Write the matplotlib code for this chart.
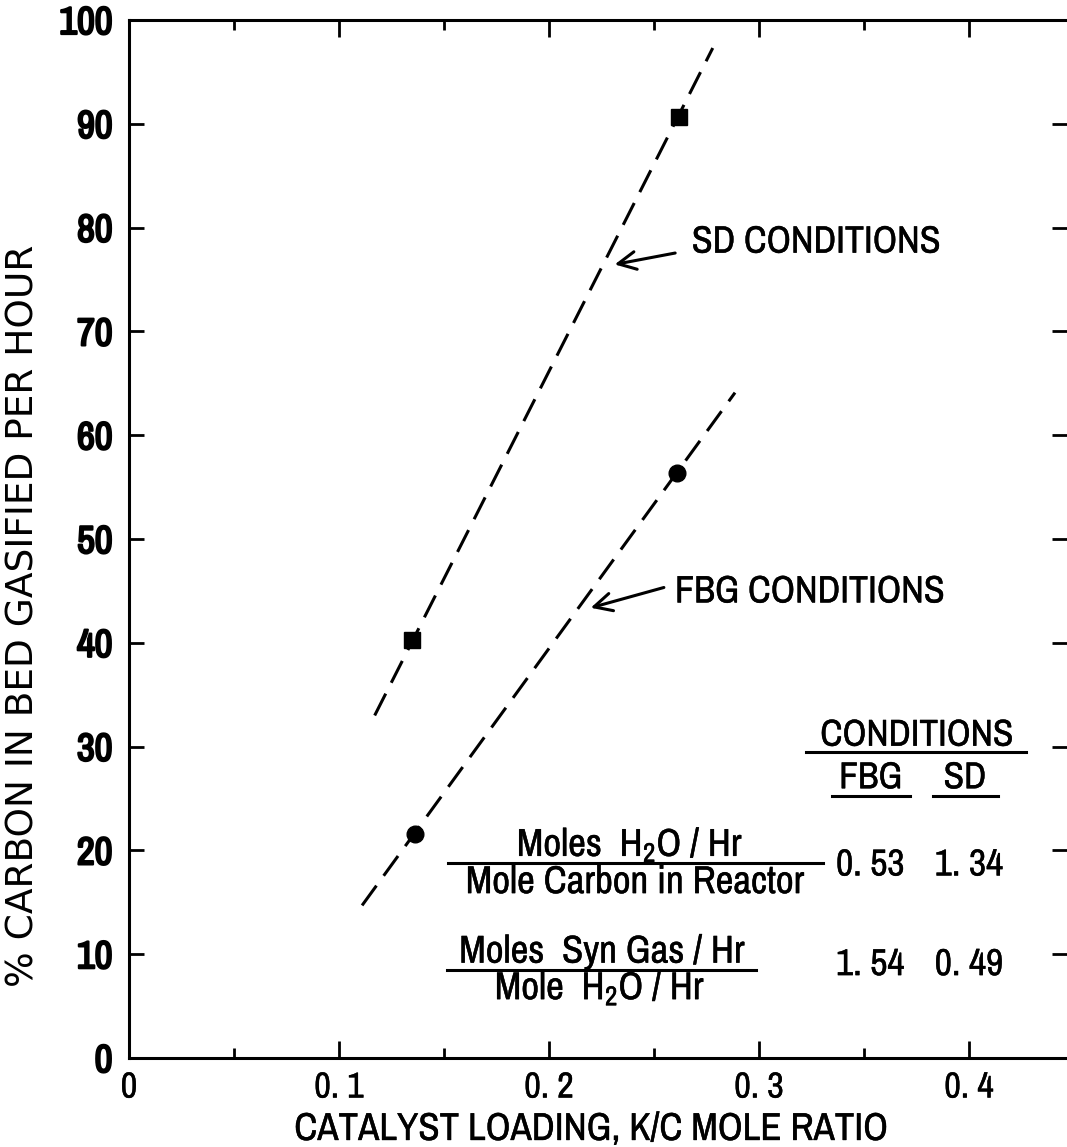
import matplotlib
matplotlib.use("Agg")
import matplotlib.pyplot as plt
import matplotlib.patheffects as pe
from matplotlib import font_manager as fm
from matplotlib.ticker import MultipleLocator

# pick a narrow sans if one is installed
narrow = None
for f in fm.fontManager.ttflist:
    if 'Narrow' in f.name or 'Condensed' in f.name:
        narrow = (f.name, 'normal')
        break
if narrow is None:
    for f in fm.fontManager.ttflist:
        if f.stretch in ('condensed', 'semi-condensed', 'extra-condensed', 300):
            narrow = (f.name, 'condensed')
            break
if narrow is None:
    narrow = ('DejaVu Sans', 'normal')

plt.rcParams['font.family'] = [narrow[0], 'DejaVu Sans']
plt.rcParams['font.stretch'] = narrow[1]
plt.rcParams['mathtext.fontset'] = 'custom'
plt.rcParams['mathtext.rm'] = narrow[0]
plt.rcParams['mathtext.default'] = 'rm'

# measured points
sd_x = [0.135, 0.262]
sd_y = [40.3, 90.7]
fbg_x = [0.136, 0.261]
fbg_y = [21.6, 56.4]

# hand-drawn fit lines (end points)
sd_line_x = [0.117, 0.278]
sd_line_y = [33.0, 97.3]
fbg_line_x = [0.111, 0.2886]
fbg_line_y = [14.7, 64.1]

# inset table
row_nums = [r"Moles  H$_2$O / Hr", "Moles  Syn Gas / Hr"]
row_dens = ["Mole Carbon in Reactor", r"Mole  H$_2$O / Hr"]
fbg_vals = ["0. 53", "1. 54"]
sd_vals = ["1. 34", "0. 49"]

# a touch heavier strokes, like the photocopied lettering
ink = [pe.withStroke(linewidth=0.3, foreground='black')]
heavy = [pe.withStroke(linewidth=1.6, foreground='black')]

fig = plt.figure(figsize=(10.67, 11.47), dpi=100)
ax = fig.add_axes([129 / 1067, 89 / 1147, 938 / 1067, 1038 / 1147])

ax.plot(sd_line_x, sd_line_y, color='black', lw=2.2, dashes=(8, 4))
ax.plot(fbg_line_x, fbg_line_y, color='black', lw=2.2, dashes=(8, 4))
ax.plot(sd_x, sd_y, 's', color='black', ms=12)
ax.plot(fbg_x, fbg_y, 'o', color='black', ms=12)

ax.set_xlim(0, 0.4467)
ax.set_ylim(0, 100)
ax.xaxis.set_major_locator(MultipleLocator(0.1))
ax.xaxis.set_minor_locator(MultipleLocator(0.05))
ax.yaxis.set_major_locator(MultipleLocator(10))
ax.set_xticks([0, 0.1, 0.2, 0.3, 0.4])
ax.set_xticklabels(['0', '0. 1', '0. 2', '0. 3', '0. 4'])

ax.spines['right'].set_visible(False)
for s in ['left', 'bottom', 'top']:
    ax.spines[s].set_linewidth(2.2)
ax.tick_params(which='both', direction='in', top=True, right=True, width=2.0)
ax.tick_params(axis='x', which='major', length=12, pad=9, labelsize=26)
ax.tick_params(axis='x', which='minor', length=7)
ax.tick_params(axis='y', which='major', length=11, pad=12, labelsize=28)
for lab in ax.get_yticklabels():
    lab.set_fontweight('bold')
    lab.set_path_effects(heavy)
for lab in ax.get_xticklabels():
    lab.set_path_effects(ink)

ax.set_xlabel("CATALYST LOADING, K/C MOLE RATIO", fontsize=28, path_effects=ink)
ax.set_ylabel("% CARBON IN BED GASIFIED PER HOUR", fontsize=27,
              family='DejaVu Sans', fontstretch='normal')
ax.xaxis.set_label_coords(0.4925, -0.052)
ax.yaxis.set_label_coords(-0.093, 0.426)

# curve labels with arrows
ax.text(0.268, 78.6, "SD CONDITIONS", fontsize=27.5, ha='left', va='center',
        path_effects=ink)
ax.annotate("", xy=(0.230, 76.4), xytext=(0.2614, 77.6),
            arrowprops=dict(arrowstyle='->', lw=2.2, mutation_scale=32))
ax.text(0.260, 44.9, "FBG CONDITIONS", fontsize=27.5, ha='left', va='center',
        path_effects=ink)
ax.annotate("", xy=(0.2186, 43.3), xytext=(0.256, 45.4),
            arrowprops=dict(arrowstyle='->', lw=2.2, mutation_scale=32))

# table
ax.text(0.3752, 31.1, "CONDITIONS", fontsize=27, ha='center', va='center',
        path_effects=ink)
ax.plot([0.3224, 0.4271], [29.5, 29.5], color='black', lw=2.2)
ax.text(0.3533, 27.0, "FBG", fontsize=27, ha='center', va='center', path_effects=ink)
ax.text(0.3981, 27.0, "SD", fontsize=27, ha='center', va='center', path_effects=ink)
ax.plot([0.3348, 0.3719], [25.2, 25.2], color='black', lw=2.2)
ax.plot([0.3829, 0.4138], [25.2, 25.2], color='black', lw=2.2)

num_pos = [(0.2386, 20.5), (0.2252, 10.2)]
den_pos = [(0.241, 16.9), (0.2243, 6.7)]
bar_x = [(0.1519, 0.3305), (0.1514, 0.2986)]
bar_y = [18.8, 8.5]
val_y = [18.6, 9.0]
for i in range(2):
    ax.text(*num_pos[i], row_nums[i], fontsize=28, ha='center', va='center',
            path_effects=ink)
    ax.text(*den_pos[i], row_dens[i], fontsize=28, ha='center', va='center',
            path_effects=ink)
    ax.plot(bar_x[i], [bar_y[i], bar_y[i]], color='black', lw=2.2)
    ax.text(0.3530, val_y[i], fbg_vals[i], fontsize=27, ha='center', va='center',
            path_effects=ink)
    ax.text(0.4000, val_y[i], sd_vals[i], fontsize=27, ha='center', va='center',
            path_effects=ink)

fig.savefig("out.png", dpi=100)
